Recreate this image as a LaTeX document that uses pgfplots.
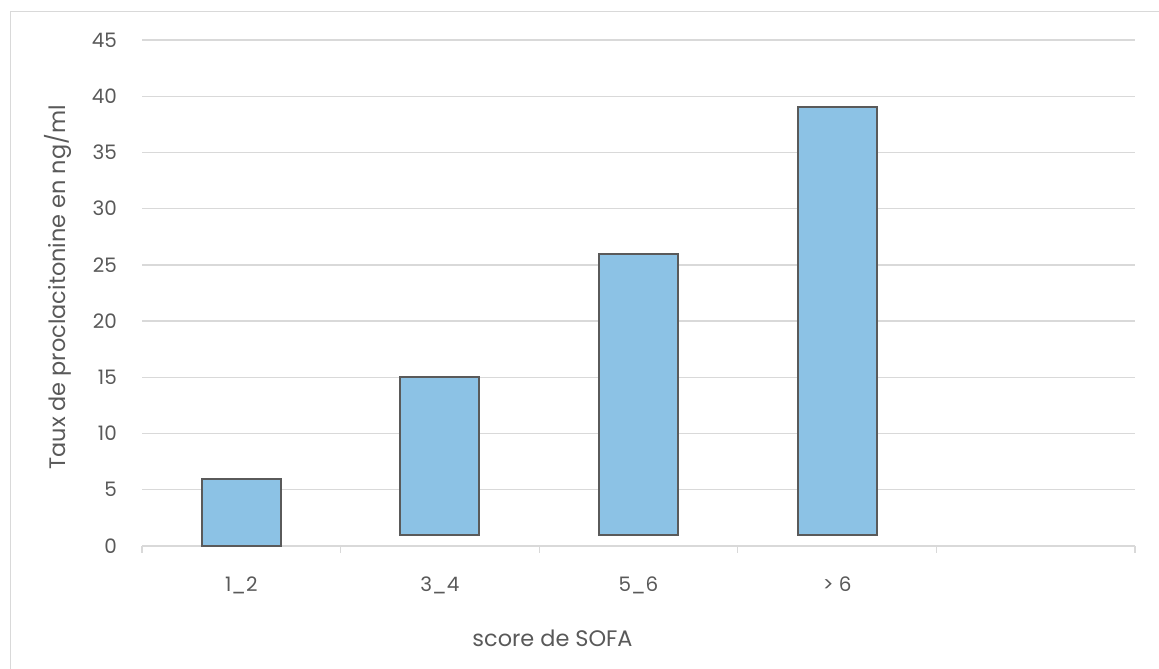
\documentclass[border=0pt]{standalone}
\usepackage{pgfplots}
\pgfplotsset{compat=1.18}
\usepackage{fontspec}
\setmainfont{Poppins}
\definecolor{txtgray}{HTML}{595959}
\definecolor{gridgray}{HTML}{D9D9D9}
\definecolor{barblue}{HTML}{8CC2E5}
\definecolor{bardraw}{HTML}{5A5A5A}
\begin{document}
\begin{tikzpicture}[x=1bp,y=1bp]
  % page area and outer chart frame
  \useasboundingbox (0,0) rectangle (1159,669);
  \draw[gridgray, line width=1.5bp] (10.5,-2) -- (10.5,657.5) -- (1162,657.5);
  \begin{axis}[
    at={(142bp,123bp)}, anchor=south west,
    scale only axis, width=993bp, height=506bp,
    xmin=-0.5, xmax=4.5, ymin=0, ymax=45,
    ybar stacked, bar width=79bp,
    axis x line*=bottom, axis y line*=left,
    axis line style={gridgray, line width=1.3bp, -},
    y axis line style={draw=none},
    ymajorgrids, grid style={gridgray, line width=1.3bp},
    ytick={0,5,...,45}, xtick={0,1,2,3},
    xticklabels={1\_2,3\_4,5\_6,{> 6}},
    major tick length=0pt,
    minor xtick={-0.5,0.5,...,4.5},
    minor tick length=7bp, tick align=outside,
    minor tick style={gridgray, line width=1.3bp},
    tick label style={font=\fontsize{20}{24}\selectfont, text=txtgray},
    /pgf/number format/assume math mode=true,
    yticklabel style={inner sep=0pt, anchor=east, xshift=-25bp},
    xticklabel style={inner sep=0pt, anchor=north, yshift=-31bp},
    xlabel={score de SOFA},
    ylabel={Taux de proclacitonine en ng/ml},
    label style={font=\fontsize{22.5}{26}\selectfont, text=txtgray},
    xlabel style={at={(rel axis cs:0.4134,-0.1996)}, anchor=base, inner sep=0pt},
    ylabel style={at={(rel axis cs:-0.0775,0.511)}, anchor=base, inner sep=0pt},
    clip=false,
  ]
    % invisible base: where each bar starts
    \addplot[draw=none, fill=none] coordinates {(0,0) (1,1) (2,1) (3,1)};
    % visible bar heights above the base
    \addplot[fill=barblue, draw=bardraw, line width=2bp] coordinates {(0,6) (1,14) (2,25) (3,38)};
  \end{axis}
\end{tikzpicture}
\end{document}
